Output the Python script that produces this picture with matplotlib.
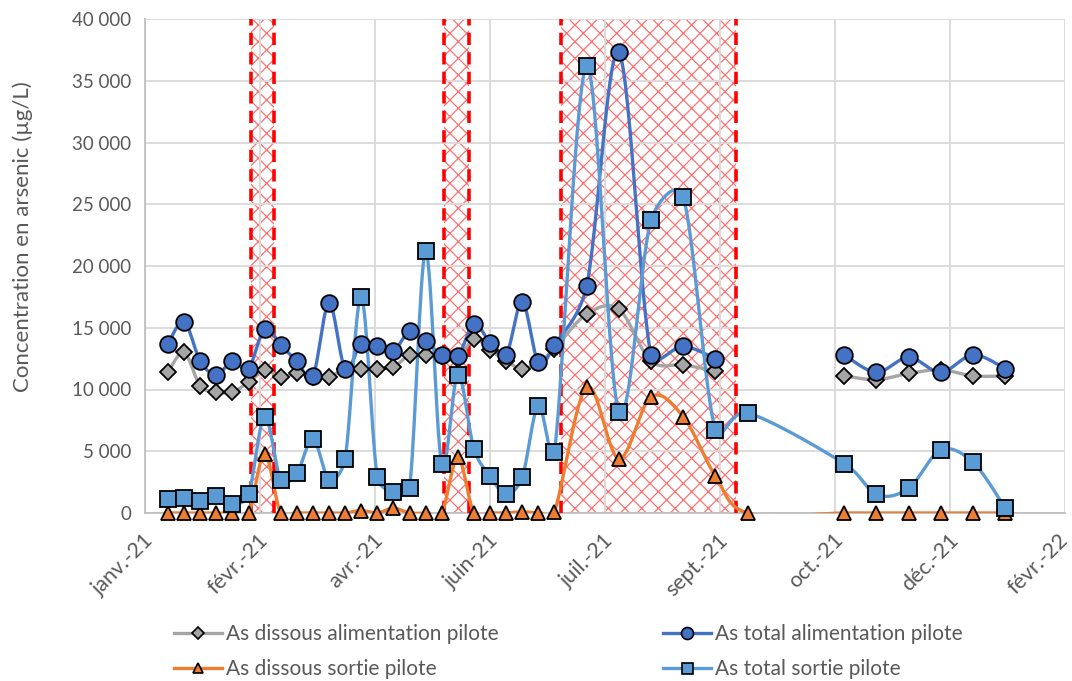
import numpy as np
import pandas as pd
import matplotlib
matplotlib.use("Agg")
import matplotlib.pyplot as plt
import matplotlib.dates as mdates
import matplotlib.transforms as mtransforms
from matplotlib.lines import Line2D

# ---------------- data ----------------
dates = ["2021-01-12", "2021-01-19", "2021-01-26", "2021-02-02", "2021-02-09", "2021-02-16",
         "2021-02-23", "2021-03-02", "2021-03-09", "2021-03-16", "2021-03-23", "2021-03-30",
         "2021-04-06", "2021-04-13", "2021-04-20", "2021-04-27", "2021-05-04", "2021-05-11",
         "2021-05-18", "2021-05-25", "2021-06-01", "2021-06-08", "2021-06-15", "2021-06-22",
         "2021-06-29", "2021-07-13", "2021-07-27", "2021-08-10", "2021-08-24", "2021-09-07",
         "2021-09-21", "2021-11-02", "2021-11-16", "2021-11-30", "2021-12-14", "2021-12-28",
         "2022-01-11"]

as_dissous_alim = [11400, 13000, 10300, 9800, 9800, 10600, 11600, 11000, 11300, 11000, 11000, 11700,
                   11700, 11700, 11800, 12800, 12800, 12700, 12500, 14100, 13200, 12300, 11700, 12200,
                   13300, 16100, 16500, 12300, 12000, 11500, np.nan, 11100, 10800, 11300, 11600, 11100,
                   11100]
as_total_alim = [13700, 15500, 12300, 11200, 12300, 11700, 14900, 13600, 12300, 11100, 17000, 11700,
                 13700, 13500, 13100, 14700, 13900, 12800, 12700, 15300, 13800, 12800, 17100, 12200,
                 13600, 18400, 37300, 12800, 13500, 12500, np.nan, 12800, 11400, 12600, 11400, 12800,
                 11700]
as_dissous_sortie = [0, 0, 0, 0, 0, 0, 4800, 0, 0, 0, 0, 0,
                     200, 0, 400, 0, 0, 0, 4500, 0, 0, 0, 100, 0,
                     100, 10200, 4400, 9400, 7800, 3000, 0, 0, 0, 0, 0, 0,
                     0]
as_total_sortie = [1100, 1200, 1000, 1400, 700, 1500, 7800, 2700, 3200, 6000, 2700, 4400,
                   17500, 2900, 1700, 2000, 21200, 4000, 11200, 5200, 3000, 1500, 2900, 8700,
                   4900, 36200, 8200, 23700, 25600, 6700, 8100, 4000, 1500, 2000, 5100, 4100,
                   400]

series_names = ["As dissous alimentation pilote", "As total alimentation pilote",
                "As dissous sortie pilote", "As total sortie pilote"]

# shaded periods (start, end)
periods_start = ["2021-02-17", "2021-05-12", "2021-07-02"]
periods_end = ["2021-02-27", "2021-05-23", "2021-09-16"]

axis_start = "2021-01-02"
tick_step_days = 50
tick_labels = ["janv.-21", "févr.-21", "avr.-21", "juin-21", "juil.-21",
               "sept.-21", "oct.-21", "déc.-21", "févr.-22"]
y_ticks = [0, 5000, 10000, 15000, 20000, 25000, 30000, 35000, 40000]

# ---------------- style ----------------
plt.rcParams['font.family'] = ['Lato', 'DejaVu Sans']
plt.rcParams['hatch.linewidth'] = 0.9
TXT = "#595959"

colors = ["#a5a5a5", "#4472c4", "#ed7d31", "#5b9bd5"]
markers = ["D", "o", "^", "s"]
msizes = [8, 12, 10.5, 11]

x_dates = pd.to_datetime(dates)
x_num = mdates.date2num(x_dates)
x0 = mdates.date2num(pd.Timestamp(axis_start))

fig = plt.figure(figsize=(10.72, 6.81), dpi=100)
ax = fig.add_axes([145 / 1072, 1 - 513 / 681, 920 / 1072, 494 / 681])
ax.set_xlim(x0, x0 + tick_step_days * (len(tick_labels) - 1))
ax.set_ylim(0, 40000)


def smooth(xs, ys, n=30):
    """Excel-like smoothed line (Bezier, control arms limited to half segment, in screen space)."""
    D = ax.transData.transform(np.column_stack([xs, ys]))
    m = len(D)
    if m < 2:
        return np.asarray(xs), np.asarray(ys)
    out = [D[0:1]]
    t = np.linspace(0, 1, n)[1:, None]
    f = 1.0 / 6.0
    for i in range(m - 1):
        p0 = D[i - 1] if i > 0 else D[i]
        p1 = D[i]
        p2 = D[i + 1]
        p3 = D[i + 2] if i + 2 < m else D[i + 1]
        d02 = np.hypot(*(p2 - p0))
        d12 = np.hypot(*(p2 - p1))
        d13 = np.hypot(*(p3 - p1))
        f0 = f if d02 * f < d12 / 2 else (d12 / 2) / d02 if d02 > 0 else 0
        f1 = f if d13 * f < d12 / 2 else (d12 / 2) / d13 if d13 > 0 else 0
        c1 = p1 + (p2 - p0) * f0
        c2 = p2 - (p3 - p1) * f1
        seg = ((1 - t) ** 3) * p1 + 3 * ((1 - t) ** 2) * t * c1 + 3 * (1 - t) * t ** 2 * c2 + t ** 3 * p2
        out.append(seg)
    Q = ax.transData.inverted().transform(np.vstack(out))
    return Q[:, 0], Q[:, 1]


# shaded periods
for s, e in zip(periods_start, periods_end):
    s_n = mdates.date2num(pd.Timestamp(s))
    e_n = mdates.date2num(pd.Timestamp(e))
    ax.axvspan(s_n, e_n, facecolor="white", edgecolor="#ff7070", hatch="xx",
               linewidth=0, zorder=0.3)
    for v in (s_n, e_n):
        ax.axvline(v, color="#ff0000", lw=2.6, ls=(0, (3.4, 2.0)), zorder=1.5)

all_series = [as_dissous_alim, as_total_alim, as_dissous_sortie, as_total_sortie]
for vals, c, mk, ms in zip(all_series, colors, markers, msizes):
    v = np.asarray(vals, float)
    ok = ~np.isnan(v)
    idx = np.where(ok)[0]
    groups = np.split(idx, np.where(np.diff(idx) != 1)[0] + 1)
    for g in groups:
        sx, sy = smooth(x_num[g], v[g])
        ax.plot(sx, sy, color=c, lw=2.4, zorder=2, solid_capstyle="round")
    ax.plot(x_num[ok], v[ok], ls="none", marker=mk, ms=ms, mfc=c, mec="black",
            mew=1.3, zorder=3, clip_on=False)

# axes
tick_pos = [x0 + tick_step_days * k for k in range(len(tick_labels))]
ax.set_xticks(tick_pos)
ax.set_xticklabels([""] * len(tick_pos))
for k, (tp, lab) in enumerate(zip(tick_pos, tick_labels)):
    dx = -2 if k < len(tick_labels) - 1 else -7
    tr = ax.get_xaxis_transform() + mtransforms.ScaledTranslation(dx / 100, -17 / 100,
                                                                  fig.dpi_scale_trans)
    ax.text(tp, 0, lab, transform=tr, rotation=45, ha="right", va="top",
            rotation_mode="anchor", fontsize=15.5, color=TXT, clip_on=False)
ax.set_yticks(y_ticks)
ax.set_yticklabels([f"{v:,}".replace(",", " ") for v in y_ticks], fontsize=13.5, color=TXT)
ax.tick_params(axis="y", length=0, pad=10)
ax.tick_params(axis="x", length=0)
ax.grid(True, color="#d9d9d9", lw=1.3, zorder=1)
ax.set_axisbelow(True)
for sp in ["top", "right"]:
    ax.spines[sp].set_visible(False)
for sp in ["left", "bottom"]:
    ax.spines[sp].set_color("#bfbfbf")
    ax.spines[sp].set_linewidth(1.3)
    ax.spines[sp].set_zorder(1.2)
ax.set_ylabel("Concentration en arsenic (µg/L)", fontsize=16, color=TXT)
ax.yaxis.set_label_coords(-0.122, 0.559)

handles = [Line2D([0], [0], color=c, lw=2.4, marker=mk, ms=ms * 0.72, mfc=c, mec="black", mew=1.2)
           for c, mk, ms in zip(colors, markers, msizes)]
order = [0, 2, 1, 3]  # column-major fill so rows read: (0,1), (2,3)
leg = fig.legend([handles[i] for i in order], [series_names[i] for i in order],
                 loc="center", bbox_to_anchor=(0.530, 1 - 651.5 / 681),
                 ncol=2, frameon=False, fontsize=15, handlelength=2.3, handletextpad=0.2,
                 columnspacing=7.9, labelspacing=0.7, labelcolor=TXT)

fig.savefig("out.png", dpi=100)
